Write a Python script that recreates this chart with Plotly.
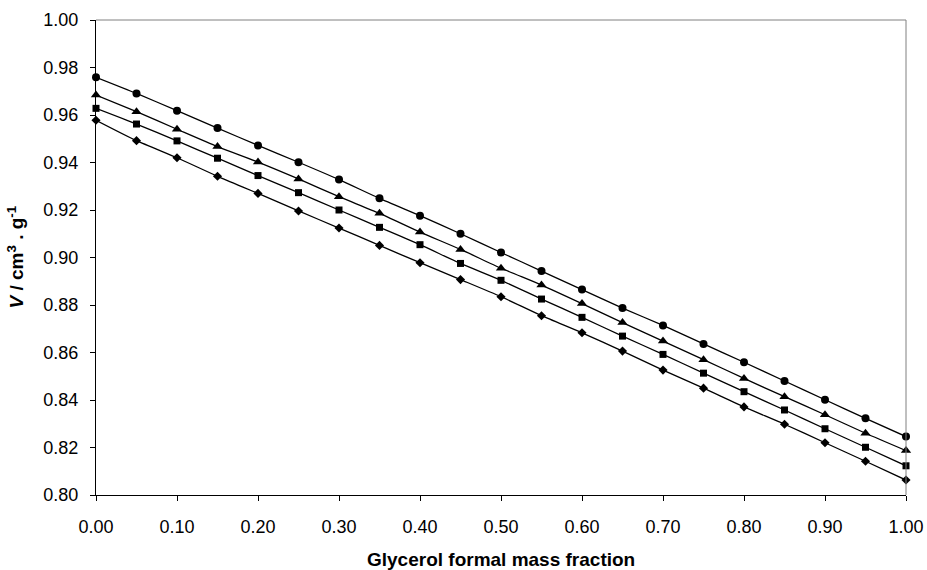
import plotly.graph_objects as go

x_frac = [0.00, 0.05, 0.10, 0.15, 0.20, 0.25, 0.30, 0.35, 0.40, 0.45, 0.50,
          0.55, 0.60, 0.65, 0.70, 0.75, 0.80, 0.85, 0.90, 0.95, 1.00]

v_circle = [0.9759, 0.9691, 0.9618, 0.9545, 0.9472, 0.9401, 0.9328, 0.9249, 0.9176, 0.9100, 0.9021,
            0.8943, 0.8865, 0.8787, 0.8714, 0.8636, 0.8559, 0.8480, 0.8401, 0.8323, 0.8246]
v_triangle = [0.9684, 0.9614, 0.9540, 0.9467, 0.9402, 0.9331, 0.9256, 0.9186, 0.9107, 0.9034, 0.8955,
              0.8884, 0.8806, 0.8726, 0.8648, 0.8570, 0.8491, 0.8414, 0.8338, 0.8260, 0.8187]
v_square = [0.9628, 0.9562, 0.9491, 0.9418, 0.9345, 0.9273, 0.9200, 0.9127, 0.9054, 0.8975, 0.8904,
            0.8825, 0.8748, 0.8669, 0.8592, 0.8513, 0.8435, 0.8358, 0.8279, 0.8201, 0.8123]
v_diamond = [0.9578, 0.9492, 0.9420, 0.9342, 0.9270, 0.9196, 0.9124, 0.9051, 0.8978, 0.8907, 0.8835,
             0.8755, 0.8683, 0.8606, 0.8526, 0.8450, 0.8371, 0.8298, 0.8220, 0.8142, 0.8063]

x_ticks = [0.0, 0.1, 0.2, 0.3, 0.4, 0.5, 0.6, 0.7, 0.8, 0.9, 1.0]
x_ticklabels = ["0.00", "0.10", "0.20", "0.30", "0.40", "0.50", "0.60", "0.70", "0.80", "0.90", "1.00"]
y_ticks = [0.80, 0.82, 0.84, 0.86, 0.88, 0.90, 0.92, 0.94, 0.96, 0.98, 1.00]
y_ticklabels = ["0.80", "0.82", "0.84", "0.86", "0.88", "0.90", "0.92", "0.94", "0.96", "0.98", "1.00"]

x_title = "<b>Glycerol formal mass fraction</b>"
y_title = "<b><i>V</i> / cm<sup>3</sup> . g<sup>-1</sup></b>"

FONT = "Liberation Sans, Arial, sans-serif"

series = [
    (v_circle, "circle", 8),
    (v_triangle, "triangle-up", 9),
    (v_square, "square", 7),
    (v_diamond, "diamond", 7),
]

fig = go.Figure()
for vals, sym, size in series:
    fig.add_trace(go.Scatter(
        x=x_frac, y=vals, mode="lines+markers",
        line=dict(color="black", width=1.3, shape="spline", smoothing=0.6),
        marker=dict(symbol=sym, size=size, color="black"),
        showlegend=False, cliponaxis=False,
    ))

fig.update_layout(
    template="none",
    width=927, height=570,
    margin=dict(l=96, r=21, t=20, b=75, autoexpand=False),
    paper_bgcolor="white", plot_bgcolor="white",
    font=dict(family=FONT, size=18, color="black"),
    xaxis=dict(
        range=[0, 1], tickmode="array", tickvals=x_ticks, ticktext=x_ticklabels,
        showgrid=False, zeroline=False, showline=True, linecolor="black", linewidth=1,
        ticks="outside", ticklen=5, tickcolor="black", ticklabelstandoff=10,
        automargin=False,
    ),
    yaxis=dict(
        range=[0.80, 1.00], tickmode="array", tickvals=y_ticks, ticktext=y_ticklabels,
        showgrid=False, zeroline=False, showline=True, linecolor="black", linewidth=1,
        ticks="outside", ticklen=5, tickcolor="black", ticklabelstandoff=8,
        automargin=False,
    ),
    annotations=[
        dict(text=x_title, xref="paper", yref="paper", x=0.5, y=-0.135,
             xanchor="center", yanchor="middle", showarrow=False, font=dict(size=19)),
        dict(text=y_title, xref="paper", yref="paper", x=-0.1, y=0.5, textangle=-90,
             xanchor="center", yanchor="middle", showarrow=False, font=dict(size=19)),
    ],
    shapes=[
        dict(type="line", xref="paper", yref="paper", x0=0, x1=1, y0=1, y1=1,
             line=dict(color="#808080", width=1)),
        dict(type="line", xref="paper", yref="paper", x0=1, x1=1, y0=0, y1=1,
             line=dict(color="#808080", width=1)),
    ],
)

fig.write_html("out.html")
